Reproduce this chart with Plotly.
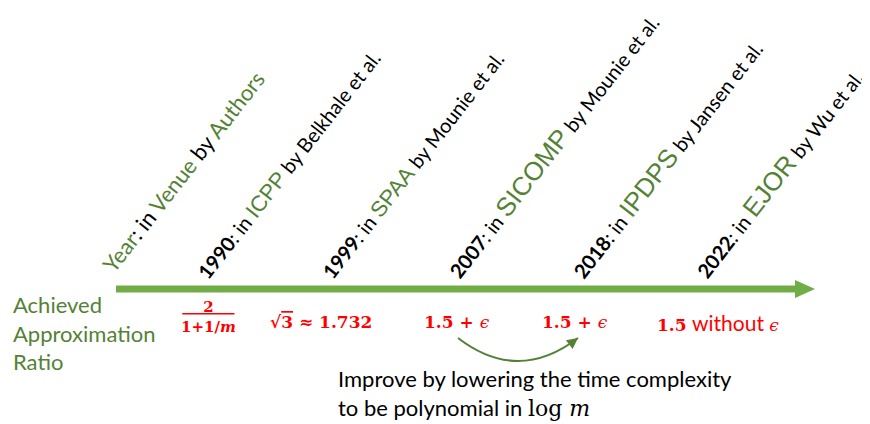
import math
import plotly.graph_objects as go

# ---------------- data ----------------
years = ["1990", "1999", "2007", "2018", "2022"]
venues = ["ICPP", "SPAA", "SICOMP", "IPDPS", "EJOR"]
authors = ["Belkhale et al.", "Mounie et al.", "Mounie et al.", "Jansen et al.", "Wu et al."]
ratio_labels = [
    "2 / (1+1/m)",
    "√3 ≈ 1.732",
    "1.5 + ϵ",
    "1.5 + ϵ",
    "1.5 without ϵ",
]
header_parts = ["Year", "Venue", "Authors"]
side_label = ["Achieved", "Approximation", "Ratio"]
note_lines = ["Improve by lowering the time complexity", "to be polynomial in"]

# ---------------- style / layout ----------------
W, H = 870, 424
PAGE_OFF = 8  # browser body margin
GREEN = "#70AD47"
DGREEN = "#548235"
RED = "#FF0000"
SANS = "Liberation Sans, Arial, sans-serif"
BODY = "Lato, Open Sans, sans-serif"
MATH = "DejaVu Serif, serif"
ANGLE = 52
BASE = 20
venue_size = {"ICPP": 22, "SPAA": 22, "SICOMP": 26, "IPDPS": 26, "EJOR": 26}
ratio_dx = [4, -7, 5, -1, 18]

AXIS_Y = 289
T_START, T_END, HEAD_LEN, HEAD_HALF = 116, 815, 20, 9
FIRST_X, STEP = 204, 124
RATIO_Y = 322

fig = go.Figure()
fig.add_trace(go.Scatter(x=[PAGE_OFF, W], y=[PAGE_OFF, H], mode="markers",
                         marker=dict(opacity=0), hoverinfo="skip", showlegend=False))

# timeline arrow
fig.add_shape(type="line", x0=T_START, x1=T_END - HEAD_LEN + 2, y0=AXIS_Y, y1=AXIS_Y,
              line=dict(color=GREEN, width=7))
fig.add_shape(type="path",
              path=f"M {T_END-HEAD_LEN},{AXIS_Y-HEAD_HALF} L {T_END},{AXIS_Y} L {T_END-HEAD_LEN},{AXIS_Y+HEAD_HALF} Z",
              fillcolor=GREEN, line=dict(color=GREEN, width=0))


def g(t, size=None, fam=None):
    s = f"color:{DGREEN}"
    if size:
        s += f";font-size:{size}px"
    if fam:
        s += f";font-family:{fam}"
    return f"<span style='{s}'>{t}</span>"


# header
header = f"{g(header_parts[0])}: in {g(header_parts[1])} by {g(header_parts[2])}"
fig.add_annotation(x=94, y=280, xref="x", yref="y", text=header,
                   textangle=-ANGLE, showarrow=False, xanchor="left", yanchor="bottom",
                   font=dict(family=BODY, size=22, color="black"))

# event labels
xs = [FIRST_X + STEP * i for i in range(len(years))]
for i, (yr, ven, au) in enumerate(zip(years, venues, authors)):
    txt = f"<b>{yr}</b>: in {g(ven, venue_size[ven], SANS)} by {au}"
    fig.add_annotation(x=xs[i] - 14, y=286, xref="x", yref="y", text=txt,
                       textangle=-ANGLE, showarrow=False, xanchor="left", yanchor="bottom",
                       font=dict(family=BODY, size=BASE, color="black"))


# ratio labels
def ratio_html(lbl):
    if lbl.startswith("2 /"):
        return ("<b><u>&nbsp;&nbsp;&nbsp;&nbsp;2&nbsp;&nbsp;&nbsp;&nbsp;</u></b><br>"
                "<b>1+1/<i>m</i></b>")
    if lbl.startswith("√3"):
        return "<b>√<span style='text-decoration:overline'>3</span> ≈ 1.732</b>"
    if "without" in lbl:
        return (f"<b>1.5</b> <span style='font-family:{BODY};font-size:21px'>without</span> <i>ϵ</i>")
    return "<b>1.5 + </b><i>ϵ</i>"


for i, lbl in enumerate(ratio_labels):
    big = lbl.startswith("2 /")
    fig.add_annotation(x=xs[i] + ratio_dx[i], y=RATIO_Y + (-5 if big else 0),
                       xref="x", yref="y", text=ratio_html(lbl),
                       showarrow=False, xanchor="center", yanchor="middle",
                       font=dict(family=MATH, size=15 if big else 17, color=RED))

# side label
fig.add_annotation(x=11, y=333, xref="x", yref="y", text="<br>".join(side_label),
                   showarrow=False, xanchor="left", yanchor="middle", align="left",
                   font=dict(family=BODY, size=22, color=DGREEN))

# curved improvement arrow between the two 1.5+eps results
x0c, x1c = xs[2] + ratio_dx[2] + 1, xs[3] + ratio_dx[3] + 3
y0c = 338
yctl = 384
fig.add_shape(type="path",
              path=f"M {x0c},{y0c} Q {(x0c+x1c)/2},{yctl} {x1c},{y0c}",
              line=dict(color=DGREEN, width=2))
dx, dy = x1c - (x0c + x1c) / 2, y0c - yctl
fig.add_annotation(x=x1c, y=y0c, ax=x1c - 0.12 * dx, ay=y0c - 0.12 * dy,
                   xref="x", yref="y", axref="x", ayref="y", text="",
                   showarrow=True, arrowhead=2, arrowsize=1.1, arrowwidth=2,
                   arrowcolor=DGREEN, standoff=0)

# note text
note = (f"{note_lines[0]}<br>{note_lines[1]} "
        f"<span style='font-family:{MATH}'>log <i>m</i></span>")
fig.add_annotation(x=336, y=393, xref="x", yref="y", text=note, showarrow=False,
                   xanchor="left", yanchor="middle", align="left",
                   font=dict(family=BODY, size=22, color="black"))

fig.update_layout(
    width=W, height=H, margin=dict(l=0, r=0, t=0, b=0),
    paper_bgcolor="white", plot_bgcolor="white", showlegend=False,
    xaxis=dict(range=[PAGE_OFF, W + PAGE_OFF], visible=False, fixedrange=True),
    yaxis=dict(range=[H + PAGE_OFF, PAGE_OFF], visible=False, fixedrange=True),
)
fig.write_html("out.html")
